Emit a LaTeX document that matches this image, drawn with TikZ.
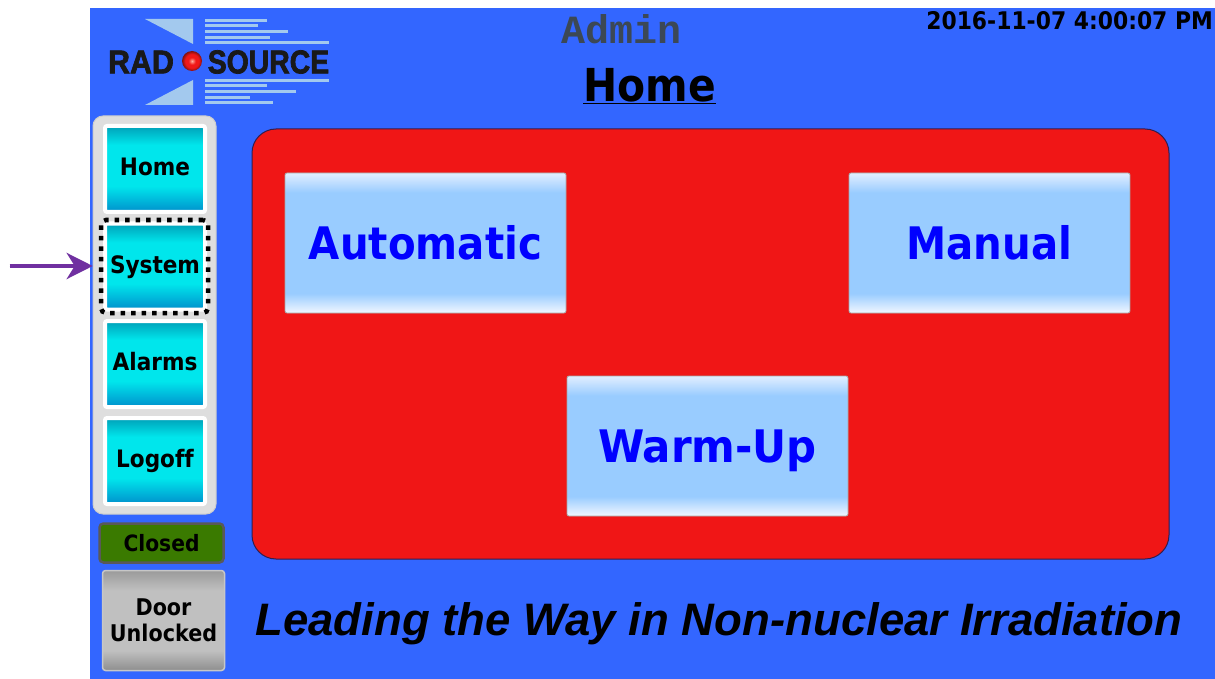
\documentclass[tikz,border=0pt]{standalone}
\usepackage{fontspec}
\usetikzlibrary{arrows.meta}
\setmainfont{Liberation Sans}
\newfontfamily\tah[FakeStretch=0.9]{DejaVu Sans}
\newfontfamily\logofont[BoldFeatures={FakeBold=2.2}]{Liberation Sans}
\newfontfamily\adminfont{Liberation Mono}
\definecolor{bg}{HTML}{3366FF}
\definecolor{panelgray}{HTML}{DEDEDE}
\definecolor{redp}{HTML}{F01616}
\definecolor{logoblue}{HTML}{A3C9EE}
\definecolor{cyA}{HTML}{00A0B8}
\definecolor{cyB}{HTML}{00E6EC}
\definecolor{cyC}{HTML}{0090CC}
\definecolor{blA}{HTML}{E2EEFF}
\definecolor{blB}{HTML}{99CCFF}
\definecolor{blC}{HTML}{F2F7FF}
\definecolor{grA}{HTML}{9A9A9A}
\definecolor{grB}{HTML}{C0C0C0}
\definecolor{grC}{HTML}{8E8E8E}
\definecolor{arrowpurple}{HTML}{7030A0}
\definecolor{closedgreen}{HTML}{3A7A00}
\definecolor{ballA}{HTML}{FFB0A0}
\definecolor{ballB}{HTML}{F01818}
\definecolor{ballC}{HTML}{801010}
\pgfdeclareverticalshading{cyanbtn}{100bp}{color(0bp)=(cyC); color(25bp)=(cyC); color(40bp)=(cyB); color(64bp)=(cyB); color(75bp)=(cyA); color(100bp)=(cyA)}
\pgfdeclareverticalshading{bluebtn}{100bp}{color(0bp)=(blC); color(25bp)=(blC); color(32bp)=(blB); color(68bp)=(blB); color(75bp)=(blA); color(100bp)=(blA)}
\pgfdeclareverticalshading{graybtn}{100bp}{color(0bp)=(grC); color(25bp)=(grC); color(35bp)=(grB); color(65bp)=(grB); color(75bp)=(grA); color(100bp)=(grA)}
\pgfdeclareradialshading{redball}{\pgfpoint{0bp}{0bp}}{color(0bp)=(ballA); color(9bp)=(ballB); color(17bp)=(ballB); color(25bp)=(ballC); color(50bp)=(ballC)}
\tikzset{
  x=1pt,y=-1pt,
  navbtn/.style={shading=cyanbtn,draw=white,line width=4pt,rounded corners=2pt,minimum width=100pt,minimum height=86pt,inner sep=0pt,text height=18pt,text depth=4.5pt,font=\tah\bfseries\fontsize{24}{26}\selectfont,text=black},
  bigbtn/.style={shading=bluebtn,draw=black!35,line width=.8pt,rounded corners=2pt,minimum width=281pt,minimum height=140pt,inner sep=0pt,text height=33pt,text depth=0pt,font=\tah\bfseries\fontsize{44.8}{50}\selectfont,text=blue},
  logoline/.style={draw=logoblue,line width=3pt},
  logotxt/.style={inner sep=0pt,text=black!90,font=\logofont\bfseries\fontsize{33}{36}\selectfont},
}
\begin{document}
\begin{tikzpicture}
\useasboundingbox (0,0) rectangle (1215,679);
\fill[white] (0,0) rectangle (1215,679);
\fill[bg] (90,8) rectangle (1215,679);
% logo
\fill[logoblue] (145,19) -- (193,19) -- (193,44) -- cycle;
\fill[logoblue] (193,80) -- (193,105) -- (145,105) -- cycle;
\foreach \yy/\xx in {21/267,26/258,32/288,38/270,43/329,81/329,86/267,92/296,98/250,103/273}
  \draw[logoline] (205,\yy) -- (\xx,\yy);
\node[logotxt,anchor=center] (rad) at (141,62) {\scalebox{.92}[1]{RAD}};
\node[logotxt,anchor=center] (source) at (268.5,62) {\scalebox{.86}[1]{SOURCE}};
\shade[shading=redball] (192,61) circle (10);
% header
\node[inner sep=0pt,text={rgb,255:red,60;green,72;blue,85},font=\adminfont\bfseries\fontsize{40}{42}\selectfont] (admin) at (622,29) {Admin};
\node[inner sep=0pt,font=\tah\bfseries\fontsize{24.3}{26}\selectfont,anchor=east] (clock) at (1213,21) {2016-11-07 4:00:07 PM};
\node[inner sep=0pt,font=\tah\bfseries\fontsize{45.4}{50}\selectfont] (title) at (649.5,86) {\underline{Home}};
% side panel
\node[fill=panelgray,draw=black!20,line width=1pt,rounded corners=10pt,minimum width=123pt,minimum height=398pt,inner sep=0pt] (panel) at (154.5,315) {};
\node[navbtn] (home) at (155,169) {Home};
\node[navbtn] (system) at (155,266.5) {System};
\node[navbtn] (alarms) at (155,364) {Alarms};
\node[navbtn] (logoff) at (155,461) {Logof\kern0ptf};
\node[draw=black,line width=4.5pt,dash pattern=on 4.5pt off 6pt,rounded corners=5pt,minimum width=107pt,minimum height=93pt,inner sep=0pt] (focus) at (154.5,266.5) {};
\coordinate (arrowstart) at (9.5,266);
\draw[draw=arrowpurple,fill=arrowpurple,line width=4.5pt,-{Stealth[length=26pt,width=26pt,inset=8pt]},shorten >=6pt] (arrowstart) -- (arrowstart -| focus.west);
% door status
\node[fill=closedgreen,draw=black!65,line width=2.5pt,rounded corners=4pt,minimum width=124pt,minimum height=39pt,inner sep=0pt,font=\tah\bfseries\fontsize{22.5}{26}\selectfont] (closed) at (161.5,543) {Closed};
\node[shading=graybtn,draw=black!22,line width=1.5pt,rounded corners=3pt,minimum width=122pt,minimum height=100pt,inner sep=0pt,align=center,font=\tah\bfseries\fontsize{23}{26.5}\selectfont] (door) at (163.5,620.5) {Door\\Unlocked};
% main panel
\node[fill=redp,draw={rgb,255:red,50;green,30;blue,80},line width=1pt,rounded corners=24pt,minimum width=917pt,minimum height=430pt,inner sep=0pt] (main) at (710.5,344) {};
\node[bigbtn] (auto) at (425.5,243) {Automatic};
\node[bigbtn] (manual) at (989.5,243) {Manual};
\node[bigbtn] (warm) at (707.5,446) {\scalebox{1.04}[1]{Warm-Up}};
\node[inner sep=0pt,font=\bfseries\itshape\fontsize{45.5}{50}\selectfont] (tag) at (719,624) {Leading the Way in Non-nuclear Irradiation};
\end{tikzpicture}
\end{document}
